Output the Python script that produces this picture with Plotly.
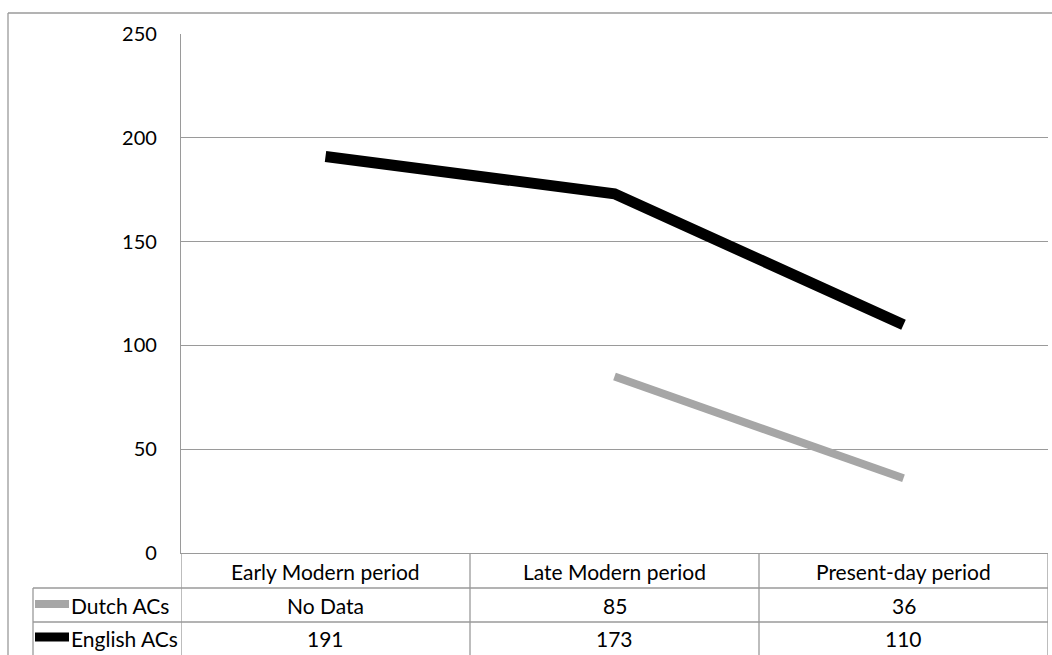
import plotly.graph_objects as go

# Periods and counts per period
periods = ["Early Modern period", "Late Modern period", "Present-day period"]
dutch_acs = [None, 85, 36]
english_acs = [191, 173, 110]
series_names = ["Dutch ACs", "English ACs"]
series_colors = ["#a6a6a6", "#000000"]
y_ticks = [0, 50, 100, 150, 200, 250]

W, H = 1052, 655
FONT = "Lato"
GRID = "#9a9a9a"


def px(x):
    return x / W


def py(y):
    return 1 - y / H


x_pos = [i + 0.5 for i in range(len(periods))]

fig = go.Figure()
fig.add_trace(go.Scatter(x=x_pos, y=dutch_acs, mode="lines", name=series_names[0],
                         line=dict(color=series_colors[0], width=8), connectgaps=False))
fig.add_trace(go.Scatter(x=x_pos, y=english_acs, mode="lines", name=series_names[1],
                         line=dict(color=series_colors[1], width=11)))

shapes = []
line_style = dict(color=GRID, width=1.3)
# outer chart frame
shapes.append(dict(type="line", xref="paper", yref="paper", x0=px(8), x1=1.0, y0=py(13), y1=py(13), line=line_style))
shapes.append(dict(type="line", xref="paper", yref="paper", x0=px(8), x1=px(8), y0=py(13), y1=0, line=line_style))
# data table grid
for yy in (588, 622):
    shapes.append(dict(type="line", xref="paper", yref="paper", x0=px(33), x1=px(1048), y0=py(yy), y1=py(yy), line=line_style))
shapes.append(dict(type="line", xref="paper", yref="paper", x0=px(33), x1=px(33), y0=py(588), y1=0, line=line_style))
for i in range(len(periods) + 1):
    shapes.append(dict(type="line", xref="x", yref="paper", x0=i, x1=i, y0=py(553), y1=0, line=line_style))
# legend keys in the table
for name, color, yy, w in zip(series_names, series_colors, (604, 637), (8, 9)):
    shapes.append(dict(type="line", xref="paper", yref="paper", x0=px(35), x1=px(69), y0=py(yy), y1=py(yy),
                       line=dict(color=color, width=w)))

annotations = []
txt = dict(family=FONT, size=21, color="#000000")
for xp, label in zip(x_pos, periods):
    annotations.append(dict(x=xp, y=py(571), xref="x", yref="paper", text=label, showarrow=False, font=txt,
                            xanchor="center", yanchor="middle"))
for vals, yy in ((dutch_acs, 605), (english_acs, 638)):
    for xp, v in zip(x_pos, vals):
        annotations.append(dict(x=xp, y=py(yy), xref="x", yref="paper",
                                text="No Data" if v is None else str(v), showarrow=False, font=txt,
                                xanchor="center", yanchor="middle"))
for name, yy in zip(series_names, (605, 638)):
    annotations.append(dict(x=px(69), y=py(yy), xref="paper", yref="paper", text=name, showarrow=False,
                            font=txt, xanchor="left", yanchor="middle"))

fig.update_layout(
    width=W, height=H, autosize=False,
    margin=dict(l=0, r=0, t=0, b=0, pad=0, autoexpand=False),
    paper_bgcolor="white", plot_bgcolor="white",
    showlegend=False,
    shapes=shapes,
    annotations=annotations,
    xaxis=dict(domain=[px(181), px(1048)], range=[0, 3], showgrid=False, zeroline=False,
               showticklabels=False, showline=True, linecolor=GRID, linewidth=1.3, fixedrange=True,
               automargin=False),
    yaxis=dict(domain=[py(553), py(34)], range=[0, 250], tickvals=y_ticks, showgrid=True, gridcolor=GRID,
               gridwidth=1.3, zeroline=False, showline=True, linecolor=GRID, linewidth=1.3,
               ticks="", ticklabelstandoff=19, tickfont=dict(family=FONT, size=20, color="#000000"),
               fixedrange=True, automargin=False),
)

fig.write_html("out.html")
